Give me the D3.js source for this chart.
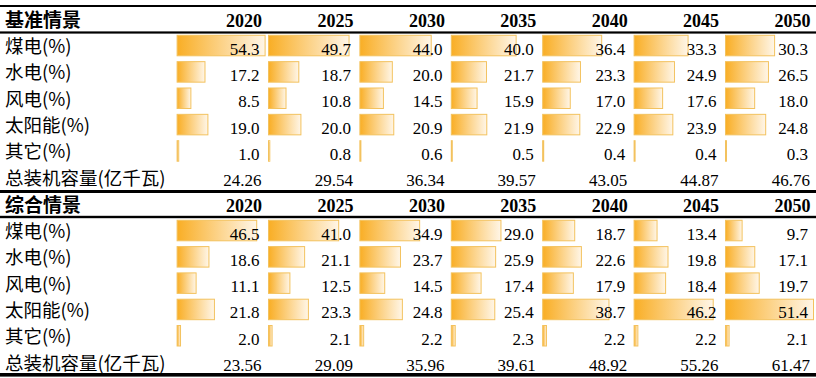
<!DOCTYPE html>
<html><head><meta charset="utf-8">
<script src="https://cdn.jsdelivr.net/npm/d3@7"></script>
<style>
html,body{margin:0;padding:0;background:#fff;}
svg{display:block;}
</style></head>
<body>
<script>
// ---- data ----
const years = [2020, 2025, 2030, 2035, 2040, 2045, 2050];
const categories = ["煤电(%)", "水电(%)", "风电(%)", "太阳能(%)", "其它(%)"];
const totalLabel = "总装机容量(亿千瓦)";
const sectionTitles = ["基准情景", "综合情景"];

// 基准情景
const coalBase  = [54.3, 49.7, 44.0, 40.0, 36.4, 33.3, 30.3];
const hydroBase = [17.2, 18.7, 20.0, 21.7, 23.3, 24.9, 26.5];
const windBase  = [8.5, 10.8, 14.5, 15.9, 17.0, 17.6, 18.0];
const solarBase = [19.0, 20.0, 20.9, 21.9, 22.9, 23.9, 24.8];
const otherBase = [1.0, 0.8, 0.6, 0.5, 0.4, 0.4, 0.3];
const totalBase = [24.26, 29.54, 36.34, 39.57, 43.05, 44.87, 46.76];

// 综合情景
const coalMix  = [46.5, 41.0, 34.9, 29.0, 18.7, 13.4, 9.7];
const hydroMix = [18.6, 21.1, 23.7, 25.9, 22.6, 19.8, 17.1];
const windMix  = [11.1, 12.5, 14.5, 17.4, 17.9, 18.4, 19.7];
const solarMix = [21.8, 23.3, 24.8, 25.4, 38.7, 46.2, 51.4];
const otherMix = [2.0, 2.1, 2.2, 2.3, 2.2, 2.2, 2.1];
const totalMix = [23.56, 29.09, 35.96, 39.61, 48.92, 55.26, 61.47];

const sections = [
  {title: sectionTitles[0], series: [coalBase, hydroBase, windBase, solarBase, otherBase], total: totalBase},
  {title: sectionTitles[1], series: [coalMix, hydroMix, windMix, solarMix, otherMix], total: totalMix}
];

// ---- layout ----
const W = 816, H = 378;
const svg = d3.select("body").append("svg").attr("width", W).attr("height", H);

const defs = svg.append("defs");
const grad = defs.append("linearGradient").attr("id", "barGrad")
  .attr("x1", "0%").attr("x2", "100%").attr("y1", "0%").attr("y2", "0%");
grad.append("stop").attr("offset", "0%").attr("stop-color", "#F9AE25");
grad.append("stop").attr("offset", "100%").attr("stop-color", "#FFF6E8");

const x = d3.scaleBand().domain(years).range([176.6, 176.6 + 7 * 91.4]).paddingInner(0);

const cjk = "'Noto Sans CJK SC','Noto Sans',sans-serif";
const serif = "'Liberation Serif','Times New Roman',serif";

const layout = [
  {headerBase: 27, rowTop: 33, pitch: 26.35},
  {headerBase: 212, rowTop: 218, pitch: 26.3}
];

// horizontal rules
const rules = [[5, 2], [31.4, 2.2], [190, 3], [215.8, 2.4], [373, 3.6]];
svg.selectAll("rect.rule").data(rules).join("rect").attr("class", "rule")
  .attr("x", 0).attr("width", W).attr("y", d => d[0]).attr("height", d => d[1]).attr("fill", "#000");

sections.forEach((sec, si) => {
  const L = layout[si];
  const g = svg.append("g");
  const rowNames = categories.concat([totalLabel]);
  const y = d3.scaleBand().domain(d3.range(6)).range([L.rowTop, L.rowTop + 6 * L.pitch]).paddingInner(0);
  const maxV = d3.max(sec.series.flat());
  const w = d3.scaleLinear().domain([0, maxV]).range([0, 88]);

  // header
  g.append("text").attr("x", 5).attr("y", L.headerBase)
    .attr("font-family", cjk).attr("font-weight", "bold").attr("font-size", 19)
    .text(sec.title);
  g.selectAll("text.yr").data(years).join("text").attr("class", "yr")
    .attr("x", d => x(d) + 85.5).attr("y", L.headerBase)
    .attr("text-anchor", "end").attr("font-family", serif).attr("font-weight", "bold").attr("font-size", 18)
    .text(d => d);

  // row labels
  g.selectAll("text.lab").data(rowNames).join("text").attr("class", "lab")
    .attr("x", 5).attr("y", (d, i) => y(i) + 20)
    .attr("font-family", cjk).attr("font-size", 18.5).attr("fill", "#000")
    .text(d => d);

  // bars + values
  sec.series.forEach((vals, ri) => {
    g.selectAll("rect.bar" + ri).data(vals).join("rect").attr("class", "bar" + ri)
      .attr("x", (d, i) => x(years[i]) + 0.5)
      .attr("y", y(ri) + 2.3)
      .attr("width", d => Math.max(1, w(d)))
      .attr("height", 20.5)
      .attr("fill", "url(#barGrad)")
      .attr("stroke", "#F3C25E").attr("stroke-width", 1);
    g.selectAll("text.val" + ri).data(vals).join("text").attr("class", "val" + ri)
      .attr("x", (d, i) => x(years[i]) + 83)
      .attr("y", y(ri) + 21.5)
      .attr("text-anchor", "end").attr("font-family", serif).attr("font-size", 17)
      .text(d => d.toFixed(1));
  });

  g.selectAll("text.tot").data(sec.total).join("text").attr("class", "tot")
    .attr("x", (d, i) => x(years[i]) + 85)
    .attr("y", y(5) + 21)
    .attr("text-anchor", "end").attr("font-family", serif).attr("font-size", 17)
    .text(d => d.toFixed(2));
});
</script>
</body></html>
